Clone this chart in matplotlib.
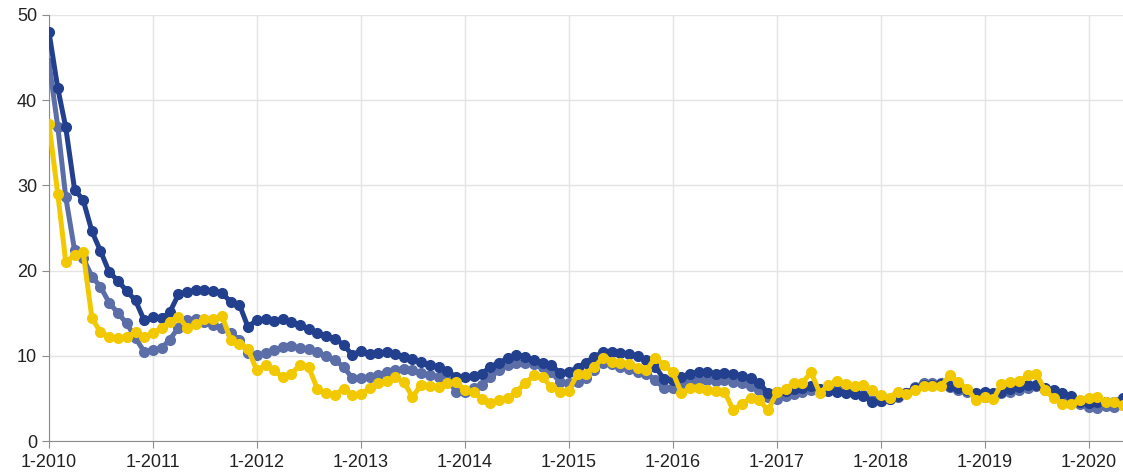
import numpy as np
import pandas as pd
import matplotlib
matplotlib.use('Agg')
import matplotlib.pyplot as plt
import matplotlib.dates as mdates

plt.rcParams['font.family'] = ['Liberation Sans', 'DejaVu Sans']

# monthly values, 1-2010 .. 5-2020
dark = [48.0, 41.4, 36.8, 29.5, 28.3, 24.6, 22.3, 19.8, 18.8, 17.6, 16.5, 14.2,
        14.5, 14.4, 15.1, 17.2, 17.5, 17.7, 17.7, 17.6, 17.4, 16.3, 16.0, 13.4,
        14.2, 14.3, 14.1, 14.3, 14.0, 13.6, 13.1, 12.7, 12.3, 12.0, 11.3, 10.1,
        10.6, 10.2, 10.3, 10.4, 10.2, 9.9, 9.6, 9.3, 8.9, 8.7, 8.2, 7.5,
        7.5, 7.6, 7.9, 8.7, 9.2, 9.7, 10.1, 9.9, 9.5, 9.2, 8.9, 8.0,
        8.1, 8.6, 9.2, 9.9, 10.4, 10.4, 10.3, 10.2, 10.0, 9.5, 8.7, 7.3,
        7.2, 7.5, 7.9, 8.1, 8.1, 7.9, 8.0, 7.9, 7.6, 7.4, 6.8, 5.6,
        5.8, 5.9, 6.1, 6.2, 6.5, 6.1, 5.9, 5.8, 5.6, 5.5, 5.3, 4.6,
        4.7, 4.9, 5.3, 5.6, 6.2, 6.6, 6.6, 6.7, 6.5, 6.2, 6.0, 5.6,
        5.8, 5.6, 5.8, 6.1, 6.3, 6.6, 6.6, 6.2, 6.0, 5.6, 5.3, 4.6,
        4.5, 4.6, 4.6, 4.6, 5.1]

medium = [44.4, 36.9, 28.6, 22.4, 21.5, 19.3, 18.1, 16.2, 15.0, 13.8, 12.1, 10.5,
          10.7, 10.9, 11.9, 13.3, 14.2, 14.3, 14.0, 13.6, 13.3, 12.7, 11.9, 10.3,
          10.1, 10.3, 10.7, 11.0, 11.1, 10.9, 10.8, 10.4, 10.0, 9.5, 8.7, 7.4,
          7.4, 7.5, 7.7, 8.1, 8.3, 8.4, 8.3, 8.0, 7.7, 7.5, 7.2, 5.8,
          5.8, 6.2, 6.6, 7.5, 8.3, 8.9, 9.1, 9.1, 9.0, 8.7, 8.1, 6.9,
          6.8, 6.9, 7.4, 8.3, 9.2, 9.0, 8.7, 8.4, 8.1, 7.9, 7.2, 6.2,
          6.2, 6.6, 6.9, 7.2, 7.2, 7.0, 7.2, 6.9, 6.8, 6.5, 6.0, 5.2,
          4.9, 5.3, 5.5, 5.7, 6.0, 6.0, 6.0, 6.0, 5.8, 5.6, 5.4, 4.8,
          4.7, 4.9, 5.2, 5.6, 6.3, 6.8, 6.8, 6.8, 6.3, 6.0, 5.8, 5.4,
          5.2, 5.4, 5.6, 5.8, 6.0, 6.2, 6.4, 6.0, 5.8, 5.4, 5.0, 4.3,
          4.0, 3.9, 4.1, 4.0, 4.2]

yellow = [37.2, 29.0, 21.0, 21.8, 22.2, 14.4, 12.8, 12.2, 12.1, 12.2, 12.8, 12.2,
          12.7, 13.3, 14.0, 14.6, 13.3, 13.7, 14.3, 14.3, 14.7, 11.9, 11.4, 10.8,
          8.3, 8.9, 8.3, 7.5, 7.9, 8.9, 8.7, 6.1, 5.6, 5.4, 6.1, 5.4,
          5.5, 6.2, 6.8, 7.0, 7.5, 6.9, 5.2, 6.6, 6.5, 6.3, 6.8, 6.9,
          6.0, 5.7, 4.9, 4.5, 4.8, 5.0, 5.8, 6.8, 7.7, 7.5, 6.3, 5.8,
          5.9, 7.9, 7.9, 8.7, 9.8, 9.3, 9.2, 9.0, 8.6, 8.3, 9.8, 8.9,
          8.1, 5.6, 6.2, 6.2, 6.0, 5.9, 5.8, 3.6, 4.4, 5.0, 4.8, 3.6,
          5.7, 6.1, 6.8, 6.8, 8.1, 5.6, 6.6, 7.0, 6.7, 6.4, 6.6, 6.0,
          5.4, 5.1, 5.8, 5.5, 6.0, 6.4, 6.4, 6.5, 7.7, 6.9, 6.1, 4.8,
          5.2, 4.9, 6.7, 6.9, 7.0, 7.7, 7.9, 6.0, 5.0, 4.4, 4.4, 4.8,
          5.0, 5.2, 4.6, 4.6, 4.2]

dates = pd.date_range('2010-01-01', periods=len(dark), freq='MS')

fig = plt.figure(figsize=(11.23, 4.76), dpi=100)
ax = fig.add_axes([0.0436, 0.0735, 0.9564, 0.895])

ax.plot(dates, medium, '-o', color='#5b6ea8', lw=3.6, ms=7, zorder=3)
ax.plot(dates, dark, '-o', color='#23408e', lw=3.6, ms=7, zorder=4)
ax.plot(dates, yellow, '-o', color='#f2c900', lw=3.6, ms=7, zorder=5)

ax.set_ylim(0, 50)
ax.set_yticks(range(0, 51, 10))
ax.set_xlim(dates[0], dates[-1])
ax.set_xticks(pd.date_range('2010-01-01', '2020-01-01', freq='YS'))
ax.xaxis.set_major_formatter(mdates.DateFormatter('1-%Y'))

ax.grid(True, color='#e4e4e4', lw=1)
ax.set_axisbelow(True)
for s in ['top', 'right']:
    ax.spines[s].set_visible(False)
for s in ['left', 'bottom']:
    ax.spines[s].set_color('#8c8c8c')
ax.tick_params(axis='both', colors='#8c8c8c', labelcolor='#222222',
               labelsize=13, length=5)
ax.tick_params(axis='x', pad=4)

plt.savefig('out.png', dpi=100)
